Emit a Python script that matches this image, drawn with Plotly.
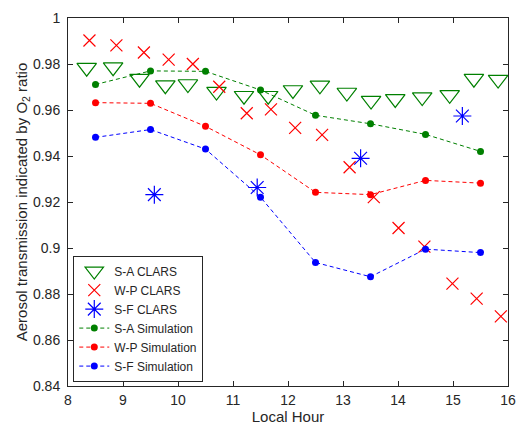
import plotly.graph_objects as go

# Simulated hours
sim_hours = [8.5, 9.5, 10.5, 11.5, 12.5, 13.5, 14.5, 15.5]
sa_sim = [0.9711, 0.9770, 0.9768, 0.9687, 0.9577, 0.9540, 0.9494, 0.9420]
wp_sim = [0.9632, 0.9629, 0.9529, 0.9405, 0.9242, 0.9232, 0.9294, 0.9282]
sf_sim = [0.9481, 0.9515, 0.9430, 0.9221, 0.8937, 0.8875, 0.8995, 0.8980]

# CLARS observations
sa_hours = [8.34, 8.82, 9.30, 9.77, 10.18, 10.70, 11.20, 11.64, 12.09,
            12.58, 13.07, 13.51, 13.95, 14.44, 14.94, 15.38, 15.82]
sa_obs = [0.9784, 0.9786, 0.9736, 0.9708, 0.9713, 0.9680, 0.9662, 0.9662, 0.9687,
          0.9707, 0.9676, 0.9641, 0.9648, 0.9656, 0.9666, 0.9736, 0.9732]
wp_hours = [8.39, 8.88, 9.38, 9.83, 10.27, 10.75, 11.25, 11.69, 12.13,
            12.62, 13.12, 13.56, 14.01, 14.48, 14.99, 15.43, 15.87]
wp_obs = [0.9902, 0.9881, 0.9850, 0.9819, 0.9800, 0.9701, 0.9586, 0.9603, 0.9522,
          0.9492, 0.9351, 0.9221, 0.9087, 0.9006, 0.8845, 0.8780, 0.8703]
sf_hours = [9.57, 11.44, 13.32, 15.17]
sf_obs = [0.9232, 0.9263, 0.9390, 0.9574]

y_ticks = [0.84, 0.86, 0.88, 0.90, 0.92, 0.94, 0.96, 0.98, 1.0]
y_labels = ["0.84", "0.86", "0.88", "0.9", "0.92", "0.94", "0.96", "0.98", "1"]

GREEN = "#008000"
RED = "#ff0000"
BLUE = "#0000ff"
INK = "#262626"

fig = go.Figure()
fig.add_trace(go.Scatter(x=sa_hours, y=sa_obs, mode="markers", name="S-A CLARS",
                         marker=dict(symbol="triangle-down-open", size=17,
                                     color=GREEN, line=dict(width=1.2, color=GREEN))))
fig.add_trace(go.Scatter(x=wp_hours, y=wp_obs, mode="markers", name="W-P CLARS",
                         marker=dict(symbol="x-thin-open", size=12,
                                     color=RED, line=dict(width=1.2, color=RED))))
fig.add_trace(go.Scatter(x=sf_hours, y=sf_obs, mode="markers", name="S-F CLARS",
                         marker=dict(symbol="asterisk-open", size=15,
                                     color=BLUE, line=dict(width=1.2, color=BLUE))))
for name, vals, col in [("S-A Simulation", sa_sim, GREEN),
                        ("W-P Simulation", wp_sim, RED),
                        ("S-F Simulation", sf_sim, BLUE)]:
    fig.add_trace(go.Scatter(x=sim_hours, y=vals, mode="lines+markers", name=name,
                             line=dict(color=col, width=1, dash="4px,3px"),
                             marker=dict(symbol="circle", size=7, color=col)))

axis_common = dict(showline=True, linecolor=INK, linewidth=1, mirror="ticks",
                   ticks="inside", ticklen=5, tickcolor=INK, showgrid=False,
                   zeroline=False, tickfont=dict(size=14, color=INK))
fig.update_xaxes(range=[8, 16], tickvals=list(range(8, 17)), ticklabelstandoff=1,
                 title=dict(text="Local Hour", font=dict(size=15, color=INK), standoff=3),
                 **axis_common)
fig.update_yaxes(range=[0.84, 1.0], tickvals=y_ticks, ticktext=y_labels,
                 ticklabelstandoff=4,
                 title=dict(text="Aerosol transmission indicated by O<sub>2</sub> ratio",
                            font=dict(size=15, color=INK), standoff=1),
                 **axis_common)

fig.update_layout(
    width=526, height=431,
    margin=dict(l=68, r=16, t=10, b=44),
    plot_bgcolor="white", paper_bgcolor="white",
    font=dict(family="Liberation Sans, Arial, sans-serif", color=INK),
    showlegend=True,
    legend=dict(x=0.012, y=0.012, xanchor="left", yanchor="bottom",
                bordercolor=INK, borderwidth=1, bgcolor="white",
                font=dict(size=12, color=INK), tracegroupgap=0,
                itemwidth=30),
)

fig.write_html("out.html")
